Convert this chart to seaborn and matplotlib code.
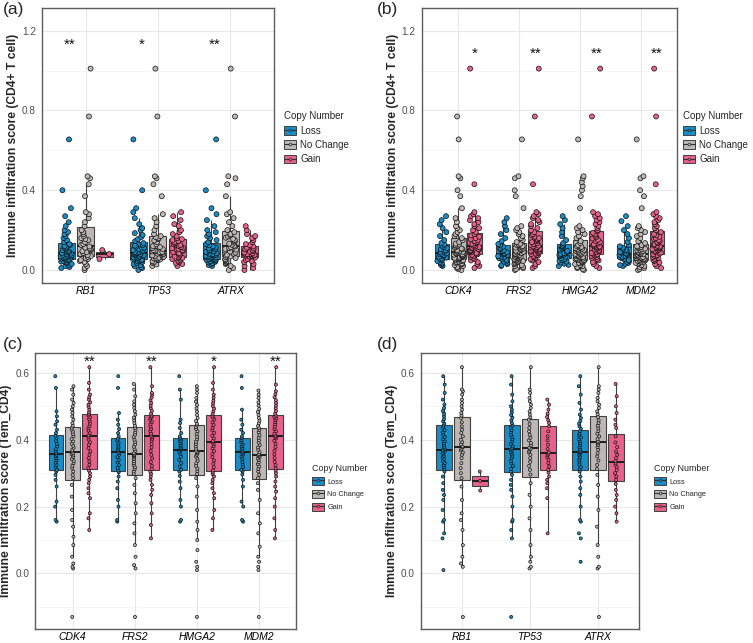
import matplotlib.pyplot as plt
import numpy as np
import pandas as pd
import seaborn as sns
from matplotlib.lines import Line2D
from matplotlib.patches import Patch
from matplotlib.ticker import FixedLocator

sns.set_style('whitegrid')
plt.rcParams['font.family'] = ['Liberation Sans', 'DejaVu Sans']
np.random.seed(7)

groups = ['Loss', 'No Change', 'Gain']
colors = ['#1a8cc6', '#bdb8b6', '#e8618a']
genes_ad = ['RB1', 'TP53', 'ATRX']
genes_bc = ['CDK4', 'FRS2', 'HMGA2', 'MDM2']

stars_a = ['**', '*', '**']
stars_b = ['*', '**', '**', '**']
stars_c = ['**', '**', '*', '**']

# ---- (a) CD4+ T cell, RB1 / TP53 / ATRX
a_RB1_loss = [0.01, 0.015, 0.02, 0.025, 0.03, 0.035, 0.04, 0.042, 0.045, 0.048, 0.05, 0.053,
              0.056, 0.058, 0.06, 0.062, 0.064, 0.066, 0.068, 0.07, 0.072, 0.074, 0.076, 0.079,
              0.082, 0.085, 0.088, 0.09, 0.094, 0.098, 0.1, 0.105, 0.11, 0.115, 0.12, 0.126,
              0.13, 0.14, 0.15, 0.16, 0.17, 0.18, 0.19, 0.2, 0.22, 0.24, 0.27, 0.31, 0.40, 0.655]
a_RB1_nc = [0.0, 0.01, 0.02, 0.03, 0.04, 0.045, 0.05, 0.055, 0.06, 0.066,
            0.07, 0.075, 0.08, 0.085, 0.09, 0.095, 0.1, 0.105, 0.108, 0.112,
            0.118, 0.125, 0.13, 0.14, 0.15, 0.155, 0.16, 0.17, 0.18, 0.19,
            0.2, 0.22, 0.24, 0.26, 0.28, 0.29, 0.37, 0.43, 0.46, 0.47, 0.77, 1.01]
a_RB1_gain = [0.055, 0.08, 0.10]
a_TP53_loss = [0.0, 0.01, 0.015, 0.02, 0.025, 0.03, 0.035, 0.04, 0.043, 0.046, 0.048, 0.05,
               0.052, 0.055, 0.058, 0.06, 0.063, 0.066, 0.069, 0.072, 0.074, 0.076, 0.078, 0.08,
               0.082, 0.085, 0.088, 0.09, 0.093, 0.097, 0.1, 0.104, 0.108, 0.112, 0.117, 0.122,
               0.125, 0.135, 0.145, 0.155, 0.165, 0.175, 0.185, 0.2, 0.21, 0.23, 0.26, 0.29,
               0.31, 0.40, 0.655]
a_TP53_nc = [0.02, 0.028, 0.035, 0.04, 0.045, 0.05, 0.053, 0.056, 0.058, 0.06, 0.062, 0.064,
             0.066, 0.07, 0.073, 0.076, 0.079, 0.082, 0.085, 0.087, 0.089, 0.091, 0.093, 0.095,
             0.097, 0.1, 0.105, 0.11, 0.115, 0.12, 0.13, 0.14, 0.148, 0.155, 0.16, 0.165,
             0.17, 0.18, 0.2, 0.22, 0.24, 0.26, 0.28, 0.37, 0.43, 0.46, 0.47, 0.77, 1.01]
a_TP53_gain = [0.02, 0.03, 0.035, 0.04, 0.045, 0.05, 0.055, 0.058, 0.061, 0.064,
               0.067, 0.072, 0.078, 0.084, 0.09, 0.095, 0.1, 0.103, 0.106, 0.109,
               0.112, 0.115, 0.12, 0.125, 0.13, 0.135, 0.14, 0.145, 0.15, 0.155,
               0.16, 0.17, 0.18, 0.19, 0.2, 0.22, 0.23, 0.25, 0.27, 0.29]
a_ATRX_loss = [0.02, 0.025, 0.03, 0.035, 0.038, 0.041, 0.044, 0.047, 0.049, 0.051, 0.053, 0.055,
               0.057, 0.059, 0.061, 0.063, 0.065, 0.067, 0.069, 0.071, 0.073, 0.075, 0.077, 0.079,
               0.082, 0.085, 0.088, 0.091, 0.094, 0.097, 0.1, 0.104, 0.108, 0.113, 0.118, 0.124,
               0.13, 0.14, 0.15, 0.16, 0.17, 0.18, 0.19, 0.2, 0.22, 0.25, 0.28, 0.31, 0.40, 0.655]
a_ATRX_nc = [0.0, 0.01, 0.02, 0.03, 0.035, 0.04, 0.045, 0.05, 0.055, 0.06, 0.064,
             0.068, 0.072, 0.077, 0.082, 0.087, 0.092, 0.097, 0.102, 0.106, 0.11, 0.114,
             0.118, 0.122, 0.127, 0.132, 0.138, 0.144, 0.15, 0.156, 0.162, 0.168, 0.174,
             0.18, 0.19, 0.2, 0.22, 0.24, 0.26, 0.28, 0.29, 0.37, 0.43, 0.46, 0.47, 0.77, 1.01]
a_ATRX_gain = [0.0, 0.01, 0.02, 0.03, 0.04, 0.045, 0.05, 0.055, 0.062,
               0.066, 0.068, 0.07, 0.072, 0.074, 0.076, 0.078, 0.08, 0.08,
               0.084, 0.088, 0.092, 0.096, 0.1, 0.104, 0.108, 0.112, 0.118,
               0.125, 0.13, 0.14, 0.15, 0.16, 0.17, 0.18, 0.2, 0.22]

# ---- (b) CD4+ T cell, CDK4 / FRS2 / HMGA2 / MDM2
b_CDK4_loss = [0.02, 0.025, 0.03, 0.035, 0.04, 0.045, 0.05, 0.054,
               0.058, 0.062, 0.066, 0.07, 0.074, 0.078, 0.081, 0.084,
               0.088, 0.093, 0.098, 0.104, 0.11, 0.116, 0.122, 0.128,
               0.135, 0.15, 0.17, 0.19, 0.21, 0.23, 0.25, 0.27]
b_CDK4_nc = [0.0, 0.005, 0.01, 0.015, 0.02, 0.025, 0.03, 0.033, 0.036, 0.039, 0.042, 0.045, 0.047, 0.049,
             0.051, 0.053, 0.055, 0.057, 0.059, 0.061, 0.063, 0.065, 0.067, 0.07, 0.072, 0.074, 0.077, 0.079,
             0.082, 0.085, 0.088, 0.091, 0.094, 0.097, 0.1, 0.104, 0.108, 0.112, 0.116, 0.12, 0.124, 0.128,
             0.132, 0.14, 0.15, 0.16, 0.17, 0.18, 0.19, 0.2, 0.21, 0.22, 0.24, 0.26,
             0.31, 0.37, 0.40, 0.46, 0.47, 0.655, 0.77]
b_CDK4_gain = [0.01, 0.02, 0.03, 0.04, 0.048, 0.055, 0.06, 0.065, 0.07, 0.073, 0.076, 0.079,
               0.082, 0.085, 0.088, 0.091, 0.094, 0.097, 0.1, 0.103, 0.106, 0.109, 0.112, 0.115,
               0.118, 0.122, 0.126, 0.13, 0.135, 0.14, 0.145, 0.15, 0.155, 0.16, 0.167, 0.174,
               0.18, 0.19, 0.2, 0.21, 0.22, 0.23, 0.24, 0.25, 0.26, 0.27, 0.28, 0.29, 0.43, 1.01]
b_FRS2_loss = [0.02, 0.025, 0.03, 0.036, 0.042, 0.047, 0.051, 0.055,
               0.059, 0.063, 0.067, 0.07, 0.073, 0.076, 0.078, 0.08,
               0.084, 0.089, 0.094, 0.099, 0.105, 0.111, 0.117, 0.124,
               0.13, 0.145, 0.16, 0.18, 0.2, 0.22, 0.24, 0.26]
b_FRS2_nc = [0.0, 0.005, 0.01, 0.015, 0.02, 0.025, 0.03, 0.033, 0.036, 0.039, 0.042, 0.045, 0.047, 0.049,
             0.051, 0.053, 0.055, 0.057, 0.059, 0.061, 0.063, 0.065, 0.067, 0.07, 0.072, 0.074, 0.077, 0.079,
             0.082, 0.085, 0.088, 0.091, 0.094, 0.097, 0.1, 0.104, 0.108, 0.112, 0.116, 0.12, 0.124, 0.128,
             0.132, 0.14, 0.15, 0.16, 0.17, 0.18, 0.19, 0.2, 0.21, 0.22,
             0.31, 0.37, 0.40, 0.46, 0.47, 0.655]
b_FRS2_gain = [0.01, 0.02, 0.03, 0.04, 0.048, 0.055, 0.06, 0.065, 0.07, 0.073, 0.076, 0.079,
               0.082, 0.085, 0.088, 0.091, 0.094, 0.097, 0.1, 0.103, 0.106, 0.109, 0.112, 0.115,
               0.118, 0.122, 0.126, 0.13, 0.135, 0.14, 0.145, 0.15, 0.155, 0.16, 0.167, 0.174,
               0.18, 0.19, 0.2, 0.21, 0.22, 0.23, 0.24, 0.25, 0.26, 0.27, 0.28, 0.29, 0.43, 0.77, 1.01]
b_HMGA2_loss = [0.02, 0.026, 0.032, 0.037, 0.042, 0.047, 0.051, 0.055,
                0.059, 0.063, 0.067, 0.07, 0.073, 0.076, 0.078, 0.081,
                0.085, 0.09, 0.096, 0.102, 0.108, 0.114, 0.12, 0.127,
                0.135, 0.15, 0.17, 0.19, 0.21, 0.23, 0.25, 0.27]
b_HMGA2_nc = [0.0, 0.005, 0.01, 0.015, 0.02, 0.025, 0.03, 0.033, 0.036, 0.039, 0.042, 0.045, 0.047, 0.049,
              0.051, 0.053, 0.055, 0.057, 0.059, 0.061, 0.063, 0.065, 0.067, 0.07, 0.072, 0.074, 0.077, 0.079,
              0.081, 0.083, 0.086, 0.089, 0.092, 0.095, 0.098, 0.101, 0.104, 0.107, 0.11, 0.113, 0.116, 0.119,
              0.125, 0.135, 0.145, 0.16, 0.17, 0.18, 0.19, 0.2, 0.21, 0.22,
              0.31, 0.37, 0.40, 0.42, 0.44, 0.46, 0.47, 0.655]
b_HMGA2_gain = [0.01, 0.02, 0.03, 0.04, 0.048, 0.055, 0.06, 0.065, 0.07, 0.073, 0.076, 0.079,
                0.082, 0.086, 0.09, 0.094, 0.098, 0.102, 0.106, 0.11, 0.113, 0.116, 0.118, 0.12,
                0.124, 0.129, 0.134, 0.14, 0.146, 0.152, 0.158, 0.165, 0.172, 0.18, 0.187, 0.194,
                0.2, 0.21, 0.22, 0.23, 0.24, 0.25, 0.26, 0.27, 0.28, 0.29, 0.77, 1.01]
b_MDM2_loss = [0.02, 0.025, 0.031, 0.036, 0.041, 0.046, 0.05, 0.055,
               0.059, 0.063, 0.067, 0.07, 0.073, 0.076, 0.078, 0.08,
               0.083, 0.087, 0.091, 0.096, 0.101, 0.106, 0.112, 0.119,
               0.125, 0.14, 0.16, 0.18, 0.2, 0.22, 0.245, 0.27]
b_MDM2_nc = [0.0, 0.005, 0.01, 0.015, 0.02, 0.025, 0.03, 0.033, 0.036, 0.039, 0.042, 0.045, 0.047, 0.049,
             0.051, 0.053, 0.055, 0.057, 0.059, 0.061, 0.063, 0.065, 0.067, 0.07, 0.072, 0.074, 0.077, 0.079,
             0.081, 0.083, 0.086, 0.089, 0.092, 0.095, 0.098, 0.101, 0.104, 0.107, 0.11, 0.113, 0.116, 0.119,
             0.125, 0.135, 0.145, 0.16, 0.17, 0.18, 0.19, 0.2, 0.21, 0.22,
             0.31, 0.37, 0.40, 0.46, 0.47, 0.655]
b_MDM2_gain = [0.01, 0.02, 0.03, 0.038, 0.045, 0.05, 0.056, 0.061, 0.065, 0.069, 0.072, 0.075,
               0.079, 0.083, 0.087, 0.091, 0.095, 0.099, 0.102, 0.105, 0.108, 0.111, 0.113, 0.115,
               0.118, 0.122, 0.126, 0.13, 0.135, 0.14, 0.145, 0.15, 0.155, 0.16, 0.167, 0.174,
               0.18, 0.19, 0.2, 0.21, 0.22, 0.23, 0.24, 0.25, 0.26, 0.27, 0.28, 0.29, 0.43, 0.77, 1.01]

# ---- (c) Tem_CD4, CDK4 / FRS2 / HMGA2 / MDM2
c_CDK4_loss = [0.155, 0.16, 0.2, 0.215, 0.26, 0.28, 0.295, 0.305,
               0.31, 0.318, 0.325, 0.332, 0.34, 0.345, 0.35, 0.355,
               0.36, 0.366, 0.372, 0.38, 0.388, 0.396, 0.404, 0.412,
               0.42, 0.43, 0.445, 0.455, 0.47, 0.485, 0.555, 0.59]
c_CDK4_nc = [-0.13, 0.015, 0.02, 0.03, 0.05, 0.085, 0.11, 0.14, 0.16, 0.19, 0.23, 0.265,
             0.285, 0.295, 0.305, 0.315, 0.322, 0.33, 0.336, 0.342, 0.348, 0.353, 0.357, 0.36,
             0.365, 0.37, 0.376, 0.382, 0.388, 0.395, 0.402, 0.41, 0.417, 0.424, 0.43, 0.436,
             0.442, 0.45, 0.46, 0.47, 0.48, 0.49, 0.5, 0.51, 0.52, 0.535, 0.55, 0.56]
c_CDK4_gain = [0.13, 0.165, 0.18, 0.225, 0.24, 0.255, 0.27, 0.28, 0.29, 0.3, 0.308,
               0.315, 0.325, 0.335, 0.345, 0.355, 0.365, 0.375, 0.385, 0.393, 0.4, 0.407,
               0.413, 0.42, 0.427, 0.434, 0.441, 0.448, 0.455, 0.462, 0.467, 0.472, 0.476,
               0.482, 0.49, 0.498, 0.505, 0.512, 0.52, 0.527, 0.535, 0.55, 0.57, 0.617]
c_FRS2_loss = [0.155, 0.16, 0.2, 0.22, 0.255, 0.275, 0.29, 0.303,
               0.308, 0.316, 0.324, 0.332, 0.34, 0.348, 0.355, 0.36,
               0.364, 0.369, 0.374, 0.379, 0.385, 0.391, 0.397, 0.403,
               0.41, 0.42, 0.432, 0.445, 0.46, 0.48, 0.555, 0.59]
c_FRS2_nc = [-0.13, 0.015, 0.025, 0.05, 0.085, 0.12, 0.15, 0.18, 0.21, 0.24, 0.265, 0.285,
             0.298, 0.305, 0.312, 0.318, 0.324, 0.33, 0.336, 0.342, 0.347, 0.351, 0.354, 0.356,
             0.36, 0.366, 0.372, 0.379, 0.386, 0.393, 0.4, 0.408, 0.415, 0.422, 0.429, 0.435,
             0.442, 0.45, 0.458, 0.466, 0.475, 0.485, 0.495, 0.505, 0.515, 0.53, 0.55, 0.567]
c_FRS2_gain = [0.105, 0.145, 0.18, 0.21, 0.235, 0.25, 0.265, 0.28, 0.29, 0.298, 0.305,
               0.312, 0.322, 0.333, 0.344, 0.355, 0.366, 0.377, 0.387, 0.396, 0.403, 0.408,
               0.412, 0.418, 0.425, 0.432, 0.439, 0.446, 0.453, 0.459, 0.464, 0.468, 0.472,
               0.478, 0.486, 0.494, 0.502, 0.51, 0.518, 0.526, 0.534, 0.54, 0.56, 0.617]
c_HMGA2_loss = [0.155, 0.16, 0.2, 0.22, 0.255, 0.275, 0.292, 0.305,
                0.31, 0.32, 0.33, 0.34, 0.35, 0.358, 0.364, 0.369,
                0.372, 0.376, 0.38, 0.385, 0.39, 0.395, 0.4, 0.404,
                0.41, 0.42, 0.435, 0.45, 0.46, 0.52, 0.55, 0.59]
c_HMGA2_nc = [-0.13, 0.01, 0.02, 0.035, 0.07, 0.1, 0.13, 0.155, 0.19, 0.23, 0.26, 0.285,
              0.298, 0.306, 0.314, 0.322, 0.33, 0.337, 0.344, 0.35, 0.355, 0.359, 0.362, 0.364,
              0.367, 0.373, 0.38, 0.387, 0.394, 0.401, 0.409, 0.417, 0.425, 0.432, 0.438, 0.443,
              0.448, 0.456, 0.465, 0.474, 0.484, 0.494, 0.504, 0.514, 0.525, 0.54, 0.55, 0.56]
c_HMGA2_gain = [0.13, 0.165, 0.19, 0.225, 0.24, 0.255, 0.27, 0.28, 0.29, 0.297, 0.302,
                0.308, 0.318, 0.328, 0.338, 0.348, 0.357, 0.366, 0.374, 0.381, 0.387, 0.392,
                0.396, 0.404, 0.412, 0.42, 0.428, 0.436, 0.444, 0.452, 0.46, 0.466, 0.471,
                0.477, 0.485, 0.493, 0.501, 0.509, 0.517, 0.526, 0.535, 0.55, 0.57, 0.617]
c_MDM2_loss = [0.155, 0.16, 0.2, 0.215, 0.26, 0.28, 0.296, 0.305,
               0.31, 0.318, 0.326, 0.334, 0.342, 0.35, 0.356, 0.361,
               0.364, 0.369, 0.374, 0.38, 0.386, 0.392, 0.398, 0.404,
               0.41, 0.42, 0.43, 0.445, 0.46, 0.49, 0.555, 0.59]
c_MDM2_nc = [-0.13, 0.01, 0.02, 0.035, 0.05, 0.08, 0.12, 0.15, 0.18, 0.22, 0.25, 0.27,
             0.285, 0.295, 0.305, 0.313, 0.32, 0.327, 0.333, 0.339, 0.344, 0.348, 0.351, 0.354,
             0.357, 0.363, 0.37, 0.377, 0.384, 0.391, 0.398, 0.406, 0.414, 0.422, 0.429, 0.435,
             0.441, 0.449, 0.457, 0.465, 0.474, 0.483, 0.492, 0.502, 0.512, 0.525, 0.535, 0.547]
c_MDM2_gain = [0.105, 0.13, 0.165, 0.2, 0.225, 0.245, 0.26, 0.275, 0.29, 0.3, 0.308,
               0.314, 0.324, 0.334, 0.345, 0.356, 0.367, 0.378, 0.388, 0.397, 0.404, 0.408,
               0.412, 0.418, 0.425, 0.432, 0.439, 0.446, 0.453, 0.459, 0.464, 0.468, 0.472,
               0.478, 0.486, 0.494, 0.502, 0.51, 0.518, 0.527, 0.536, 0.545, 0.565, 0.617]

# ---- (d) Tem_CD4, RB1 / TP53 / ATRX
d_RB1_loss = [0.01, 0.105, 0.12, 0.155, 0.16, 0.19, 0.22, 0.235, 0.25, 0.27, 0.29, 0.305,
              0.312, 0.318, 0.324, 0.33, 0.336, 0.342, 0.347, 0.352, 0.357, 0.361, 0.365, 0.368,
              0.372, 0.377, 0.383, 0.389, 0.395, 0.401, 0.408, 0.415, 0.422, 0.429, 0.436, 0.442,
              0.448, 0.455, 0.462, 0.47, 0.478, 0.486, 0.495, 0.505, 0.52, 0.54, 0.565, 0.59]
d_RB1_nc = [-0.13, 0.02, 0.03, 0.05, 0.085, 0.13, 0.16, 0.18, 0.22, 0.26,
            0.285, 0.3, 0.315, 0.33, 0.345, 0.355, 0.362, 0.368, 0.373, 0.377,
            0.38, 0.386, 0.393, 0.4, 0.41, 0.42, 0.43, 0.44, 0.452, 0.465,
            0.472, 0.48, 0.49, 0.5, 0.51, 0.52, 0.535, 0.545, 0.55, 0.617]
d_RB1_gain = [0.248, 0.277, 0.305]
d_TP53_loss = [-0.13, 0.105, 0.13, 0.155, 0.16, 0.2, 0.23, 0.25, 0.265, 0.28, 0.295,
               0.305, 0.313, 0.321, 0.329, 0.337, 0.345, 0.352, 0.358, 0.363, 0.367, 0.371,
               0.374, 0.38, 0.387, 0.394, 0.401, 0.408, 0.415, 0.422, 0.429, 0.436, 0.443,
               0.45, 0.458, 0.466, 0.474, 0.482, 0.49, 0.5, 0.515, 0.535, 0.565, 0.59]
d_TP53_nc = [0.015, 0.02, 0.035, 0.05, 0.085, 0.13, 0.165, 0.2, 0.235, 0.27,
             0.296, 0.31, 0.322, 0.334, 0.345, 0.355, 0.362, 0.367, 0.371, 0.373,
             0.376, 0.383, 0.39, 0.398, 0.406, 0.415, 0.425, 0.435, 0.447, 0.46,
             0.467, 0.475, 0.485, 0.495, 0.505, 0.515, 0.525, 0.54, 0.55, 0.617]
d_TP53_gain = [0.12, 0.225, 0.255, 0.27, 0.28, 0.29, 0.302,
               0.31, 0.32, 0.33, 0.34, 0.348, 0.354, 0.358,
               0.362, 0.372, 0.385, 0.398, 0.41, 0.425, 0.44,
               0.45, 0.458, 0.468, 0.478, 0.49, 0.505, 0.52]
d_ATRX_loss = [0.035, 0.105, 0.12, 0.155, 0.16, 0.2, 0.235, 0.255, 0.275, 0.29, 0.305,
               0.312, 0.318, 0.325, 0.332, 0.338, 0.344, 0.349, 0.354, 0.358, 0.361, 0.363,
               0.366, 0.371, 0.377, 0.383, 0.389, 0.395, 0.401, 0.407, 0.413, 0.419, 0.426,
               0.433, 0.44, 0.448, 0.456, 0.465, 0.475, 0.49, 0.51, 0.535, 0.56, 0.59]
d_ATRX_nc = [-0.13, 0.015, 0.02, 0.05, 0.085, 0.14, 0.19, 0.23, 0.265, 0.295,
             0.313, 0.325, 0.338, 0.35, 0.36, 0.37, 0.378, 0.384, 0.389, 0.392,
             0.395, 0.402, 0.41, 0.418, 0.426, 0.434, 0.442, 0.45, 0.458, 0.468,
             0.476, 0.485, 0.495, 0.505, 0.515, 0.525, 0.54, 0.55, 0.56, 0.617]
d_ATRX_gain = [0.155, 0.18, 0.2, 0.22, 0.235, 0.25, 0.268,
               0.28, 0.29, 0.3, 0.31, 0.318, 0.325, 0.331,
               0.336, 0.345, 0.355, 0.365, 0.378, 0.392, 0.41,
               0.435, 0.445, 0.46, 0.48, 0.5, 0.53, 0.567]


def make_frame(genes, loss, nochange, gain):
    rows = []
    for gene, sets in zip(genes, zip(loss, nochange, gain)):
        for grp, vals in zip(groups, sets):
            rows += [(gene, grp, v) for v in vals]
    return pd.DataFrame(rows, columns=['gene', 'copy', 'score'])


df_a = make_frame(genes_ad, [a_RB1_loss, a_TP53_loss, a_ATRX_loss],
                  [a_RB1_nc, a_TP53_nc, a_ATRX_nc], [a_RB1_gain, a_TP53_gain, a_ATRX_gain])
df_b = make_frame(genes_bc, [b_CDK4_loss, b_FRS2_loss, b_HMGA2_loss, b_MDM2_loss],
                  [b_CDK4_nc, b_FRS2_nc, b_HMGA2_nc, b_MDM2_nc],
                  [b_CDK4_gain, b_FRS2_gain, b_HMGA2_gain, b_MDM2_gain])
df_c = make_frame(genes_bc, [c_CDK4_loss, c_FRS2_loss, c_HMGA2_loss, c_MDM2_loss],
                  [c_CDK4_nc, c_FRS2_nc, c_HMGA2_nc, c_MDM2_nc],
                  [c_CDK4_gain, c_FRS2_gain, c_HMGA2_gain, c_MDM2_gain])
df_d = make_frame(genes_ad, [d_RB1_loss, d_TP53_loss, d_ATRX_loss],
                  [d_RB1_nc, d_TP53_nc, d_ATRX_nc], [d_RB1_gain, d_TP53_gain, d_ATRX_gain])


def draw(ax, df, genes, ylabel, big):
    sns.boxplot(data=df, x='gene', y='score', hue='copy', order=genes, hue_order=groups,
                palette=colors, saturation=1, width=0.8, gap=0.12, showfliers=False,
                showcaps=False, linewidth=0.8, linecolor='#404040',
                medianprops={'color': '#1e1e1e', 'linewidth': 1.4}, legend=False, ax=ax)
    sns.stripplot(data=df, x='gene', y='score', hue='copy', order=genes, hue_order=groups,
                  palette=colors, dodge=True, jitter=0.24 if big else 0.05,
                  size=3.6 if big else 2.2, linewidth=0.5, edgecolor='#111111',
                  legend=False, zorder=3, ax=ax)
    if big:
        ax.set_ylim(-0.065, 1.314)
        ax.set_yticks([0.0, 0.4, 0.8, 1.2])
        ax.yaxis.set_minor_locator(FixedLocator([0.2, 0.6, 1.0]))
    else:
        ax.set_ylim(-0.166, 0.659)
        ax.set_yticks([0.0, 0.2, 0.4, 0.6])
        ax.yaxis.set_minor_locator(FixedLocator([-0.1, 0.1, 0.3, 0.5]))
    ax.set_xlim(-0.6, len(genes) - 0.4)
    ax.set_axisbelow(True)
    ax.grid(which='major', color='#e8e8e8', linewidth=0.8)
    ax.grid(which='minor', axis='y', color='#f3f3f3', linewidth=0.5)
    ax.xaxis.grid(True)
    for side in ax.spines.values():
        side.set_color('#5c5c5c')
        side.set_linewidth(1.0)
    ax.tick_params(axis='y', which='major', length=2, width=0.7, color='#5c5c5c',
                   pad=2.5, labelsize=7.2, labelcolor='#4d4d4d')
    ax.tick_params(axis='y', which='minor', length=0)
    ax.tick_params(axis='x', length=1.5, width=0.7, color='#5c5c5c', pad=1,
                   labelsize=7.5, labelcolor='black')
    for lbl in ax.get_xticklabels():
        lbl.set_fontstyle('italic')
    ax.set_xlabel('')
    ax.set_ylabel(ylabel, fontsize=8.7, fontweight='bold', labelpad=2)


def add_stars(ax, stars, x_shift, y):
    for i, s in enumerate(stars):
        ax.text(i + x_shift, y, s, ha='center', va='center', fontsize=11, color='#111111')


def add_legend(fig, x, y, small):
    handles = [(Patch(facecolor=c, edgecolor='#404040', linewidth=0.7),
                Line2D([], [], color='#303030', lw=0.8, marker='o', markersize=2,
                       markerfacecolor=c, markeredgewidth=0.5))
               for c in colors]
    fig.legend(handles, groups, title='Copy Number', loc='upper left',
               bbox_to_anchor=(x, y), frameon=False,
               fontsize=5.3 if small else 7, title_fontsize=6.4 if small else 7,
               handlelength=1.6 if small else 1.2, handleheight=1.25 if small else 1.0,
               labelspacing=0.62 if small else 0.45, handletextpad=0.5,
               borderpad=0, borderaxespad=0, alignment='left')


fig = plt.figure(figsize=(7.53, 6.43), dpi=100)
ax_a = fig.add_axes([0.0558, 0.5599, 0.308, 0.4277])
ax_b = fig.add_axes([0.5604, 0.5599, 0.3386, 0.4277])
ax_c = fig.add_axes([0.0471, 0.0218, 0.3460, 0.429])
ax_d = fig.add_axes([0.5590, 0.0218, 0.2895, 0.429])

draw(ax_a, df_a, genes_ad, 'Immune infiltration score (CD4+ T cell)', True)
draw(ax_b, df_b, genes_bc, 'Immune infiltration score (CD4+ T cell)', True)
draw(ax_c, df_c, genes_bc, 'Immune infiltration score (Tem_CD4)', False)
draw(ax_d, df_d, genes_ad, 'Immune infiltration score (Tem_CD4)', False)

add_stars(ax_a, stars_a, -0.22, 1.13)
add_stars(ax_b, stars_b, 0.27, 1.085)
add_stars(ax_c, stars_c, 0.27, 0.632)

add_legend(fig, 0.377, 0.827, False)
add_legend(fig, 0.907, 0.827, False)
add_legend(fig, 0.414, 0.279, True)
add_legend(fig, 0.8685, 0.279, True)

for label, x, y in [('(a)', 0.004, 0.997), ('(b)', 0.5, 0.997),
                    ('(c)', 0.004, 0.476), ('(d)', 0.5, 0.476)]:
    fig.text(x, y, label, fontsize=12.5, va='top', ha='left')

fig.savefig('out.png', dpi=100)
